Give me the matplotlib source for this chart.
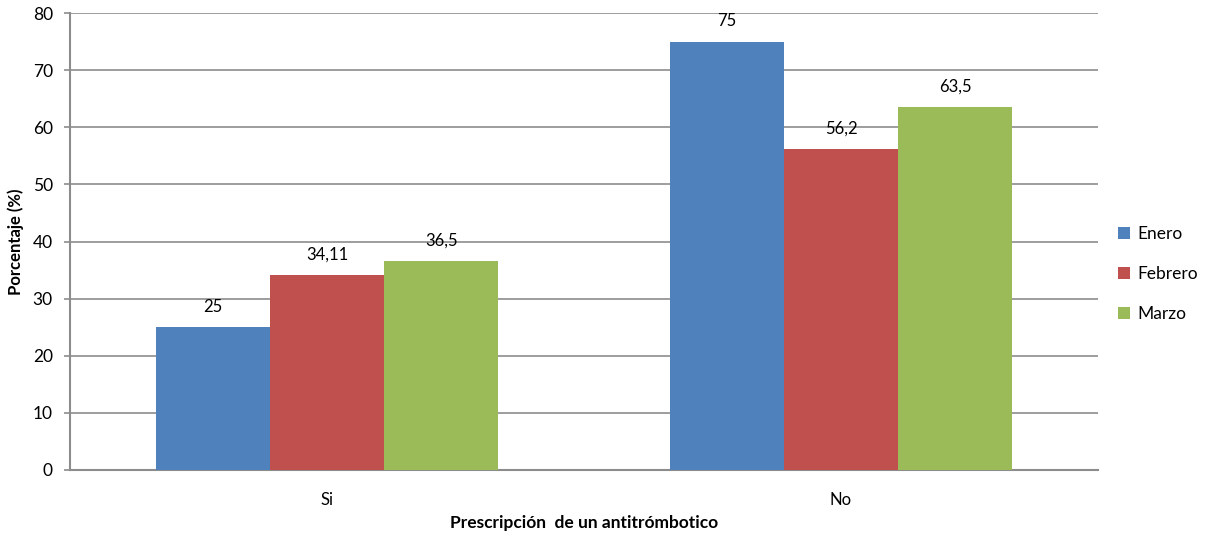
import matplotlib
matplotlib.use("Agg")
import matplotlib.pyplot as plt
import numpy as np

categories = ["Si", "No"]
series_names = ["Enero", "Febrero", "Marzo"]
enero = [25, 75]
febrero = [34.11, 56.2]
marzo = [36.5, 63.5]
labels_enero = ["25", "75"]
labels_febrero = ["34,11", "56,2"]
labels_marzo = ["36,5", "63,5"]
yticks = [0, 10, 20, 30, 40, 50, 60, 70, 80]

colors = ["#4F81BD", "#C0504D", "#9BBB59"]
plt.rcParams['font.family'] = ['Lato', 'DejaVu Sans']

fig = plt.figure(figsize=(12.18, 5.37), dpi=100)
ax = fig.add_axes([70/1218, 1-470/537, 1028/1218, 457/537])

x = np.arange(len(categories))
w = 0.222
data = [enero, febrero, marzo]
labs = [labels_enero, labels_febrero, labels_marzo]
for i, (vals, name, c, lb) in enumerate(zip(data, series_names, colors, labs)):
    bars = ax.bar(x + (i - 1) * w, vals, width=w, color=c, label=name, zorder=3)
    for b, t in zip(bars, lb):
        ax.text(b.get_x() + b.get_width()/2, b.get_height() + 2.2, t,
                ha='center', va='bottom', fontsize=12, color='#000000')

ax.set_xlim(-0.5, 1.5)
ax.set_ylim(0, 80)
ax.set_yticks(yticks)
ax.set_yticklabels([str(v) for v in yticks], fontsize=12.5)
ax.set_xticks(x)
ax.set_xticklabels(categories, fontsize=12)
ax.tick_params(axis='x', length=0, pad=16)
ax.tick_params(axis='y', length=4.3, width=1.2, color='#8C8C8C', pad=8, direction='out')
ax.yaxis.grid(True, color='#8C8C8C', linewidth=1.2, zorder=0)
ax.set_axisbelow(True)
for s in ['top', 'right']:
    ax.spines[s].set_visible(False)
ax.spines['left'].set_color('#8C8C8C')
ax.spines['left'].set_linewidth(1.5)
ax.spines['bottom'].set_color('#8C8C8C')
ax.spines['bottom'].set_linewidth(1.5)

ax.set_ylabel("Porcentaje (%)", fontsize=12, fontweight='bold')
ax.yaxis.set_label_coords(-46/1028, 0.5)
ax.set_xlabel("Prescripción  de un antitrómbotico", fontsize=12.5, fontweight='bold')
ax.xaxis.set_label_coords(0.5, -45/457)

leg = fig.legend(loc='center left', bbox_to_anchor=(1118/1218, 1-274/537), frameon=False,
                 fontsize=12.5, handlelength=0.7, handleheight=0.7, handletextpad=0.4,
                 labelspacing=1.4, borderaxespad=0, borderpad=0)

fig.savefig("out.png", dpi=100)
